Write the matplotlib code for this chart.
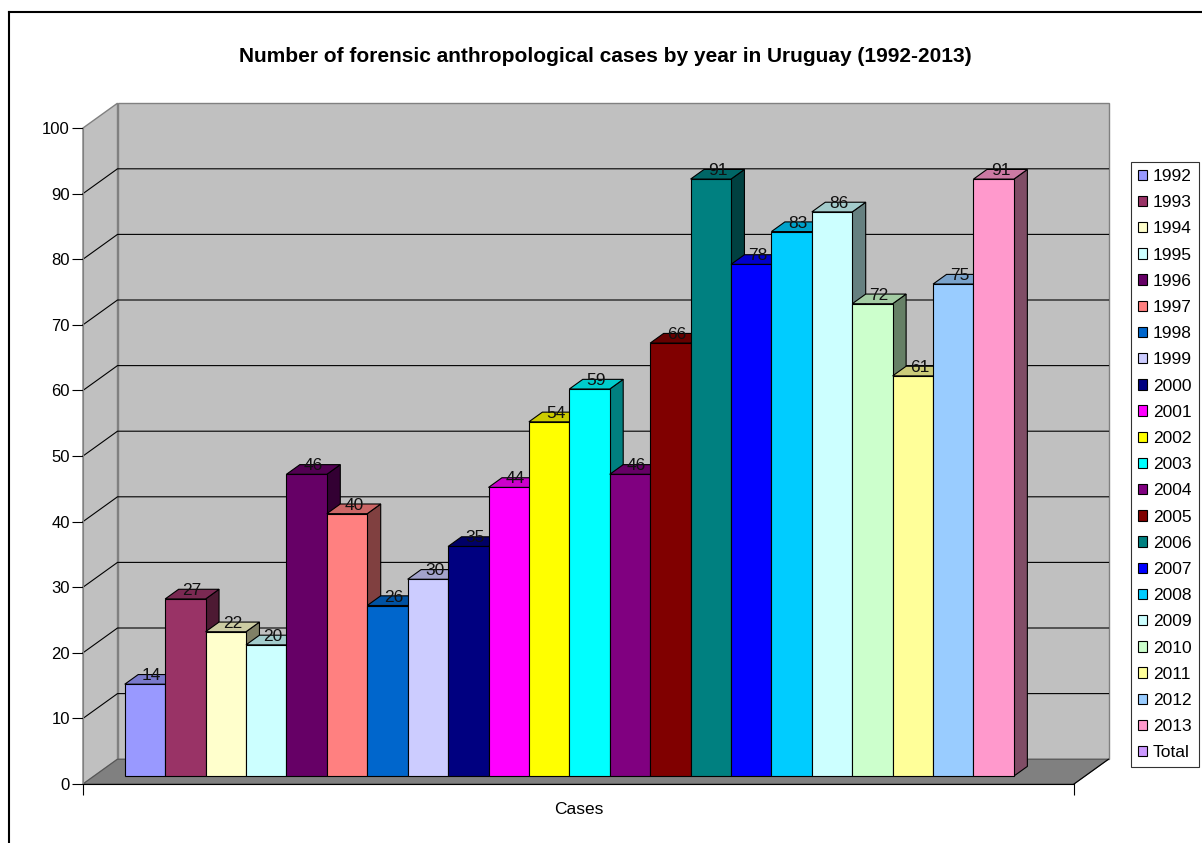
import numpy as np
import matplotlib as mpl

mpl.use('Agg')

from matplotlib import pyplot as plt
from matplotlib.patches import Rectangle, Polygon, Patch
from matplotlib.lines import Line2D
from matplotlib.colors import to_rgb

title = "Number of forensic anthropological cases by year in Uruguay (1992-2013)"
years = ['1992', '1993', '1994', '1995', '1996', '1997', '1998', '1999', '2000', '2001', '2002',
         '2003', '2004', '2005', '2006', '2007', '2008', '2009', '2010', '2011', '2012', '2013',
         'Total']
cases = [14, 27, 22, 20, 46, 40, 26, 30, 35, 44, 54, 59, 46, 66, 91, 78, 83, 86, 72, 61, 75, 91]
colors = ['#9999FF', '#993366', '#FFFFCC', '#CCFFFF', '#660066', '#FF8080', '#0066CC', '#CCCCFF',
          '#000080', '#FF00FF', '#FFFF00', '#00FFFF', '#800080', '#800000', '#008080', '#0000FF',
          '#00CCFF', '#CCFFFF', '#CCFFCC', '#FFFF99', '#99CCFF', '#FF99CC', '#CC99FF']
yticks = list(range(0, 101, 10))

plt.rcParams['font.family'] = ['Liberation Sans', 'DejaVu Sans']

W, H = 1202, 843
fig = plt.figure(figsize=(W / 100, H / 100), dpi=100)

# front plane of the 3d box, in pixels
left, right, bottom, top = 83, 1074, 784, 128
ax = fig.add_axes([left / W, 1 - bottom / H, (right - left) / W, (bottom - top) / H])
xmin, xmax = -0.76, len(years) - 1 + 1.76
ax.set_xlim(xmin, xmax)
ax.set_ylim(0, 100)
ax.patch.set_visible(False)

# depth of the box in data units
px_x = (right - left) / (xmax - xmin)
px_y = (bottom - top) / 100
ddx = 34.5 / px_x
ddy = 24.8 / px_y


def shade(c, f):
    return tuple(np.array(to_rgb(c)) * f)


# walls and floor
wall = '#C0C0C0'
ax.add_patch(Polygon([(xmin, 0), (xmin, 100), (xmin + ddx, 100 + ddy), (xmin + ddx, ddy)],
                     facecolor=wall, edgecolor='#808080', lw=1, clip_on=False, zorder=0))
ax.add_patch(Rectangle((xmin + ddx, ddy), xmax - xmin, 100, facecolor=wall,
                       edgecolor='#808080', lw=1, clip_on=False, zorder=0))
ax.add_patch(Polygon([(xmin, 0), (xmax, 0), (xmax + ddx, ddy), (xmin + ddx, ddy)],
                     facecolor='#808080', edgecolor='#555555', lw=0.8, clip_on=False, zorder=0.5))
ax.plot([xmax, xmax + ddx], [0, ddy], color='black', lw=0.8, clip_on=False, zorder=0.6)

for v in yticks[1:-1]:
    ax.plot([xmin, xmin + ddx, xmax + ddx], [v, v + ddy, v + ddy], color='black', lw=0.8,
            clip_on=False, zorder=1)

# bars
d0, d1 = 0.32, 0.71
dx = (d1 - d0) * ddx
dy = (d1 - d0) * ddy
xs = np.arange(len(cases)) + d0 * ddx
bars = ax.bar(xs, cases, width=1, bottom=d0 * ddy, align='edge', color=colors[:len(cases)],
              edgecolor='black', lw=0.8, clip_on=False)
for i, (x, v, c, b) in enumerate(zip(xs, cases, colors, bars)):
    h = v + d0 * ddy
    z = 2 + 3 * i
    ax.add_patch(Polygon([(x + 1, d0 * ddy), (x + 1, h), (x + 1 + dx, h + dy), (x + 1 + dx, d1 * ddy)],
                         facecolor=shade(c, 0.5), edgecolor='black', lw=0.8, clip_on=False, zorder=z))
    ax.add_patch(Polygon([(x, h), (x + 1, h), (x + 1 + dx, h + dy), (x + dx, h + dy)],
                         facecolor=shade(c, 0.8), edgecolor='black', lw=0.8, clip_on=False, zorder=z + 1))
    b.set_zorder(z + 2)
    ax.text(x + 0.5 + dx / 2, h + 4 / px_y, str(v), ha='center', va='baseline', fontsize=12.5,
            color='#111111', zorder=200)

# axes
for s in ['top', 'right']:
    ax.spines[s].set_visible(False)
ax.spines['left'].set_color('#808080')
ax.spines['bottom'].set_color('black')
ax.spines['left'].set_zorder(150)
ax.spines['bottom'].set_zorder(150)
ax.set_yticks(yticks)
ax.tick_params(axis='y', length=7.9, width=0.8, pad=1.5, labelsize=12, color='black')
ax.set_xticks([(xmin + xmax) / 2])
ax.set_xticklabels(['Cases'])
ax.tick_params(axis='x', which='major', length=0, pad=13, labelsize=12.5)
ax.set_xticks([xmin, xmax], minor=True)
ax.tick_params(axis='x', which='minor', length=7.9, width=0.8, direction='out', color='black')

fig.text(605 / W, 1 - 61.7 / H, title, ha='center', va='baseline', fontsize=15, fontweight='bold')

handles = [Patch(facecolor=c, edgecolor='black', lw=0.8) for c in colors]
leg = fig.legend(handles, years, loc='upper left', bbox_to_anchor=(1131 / W, 1 - 162 / H),
                 frameon=True, fancybox=False, edgecolor='black', fontsize=12.5, handlelength=0.55,
                 handleheight=0.55, handletextpad=0.3, labelspacing=0.645, borderpad=0.4,
                 borderaxespad=0)
leg.get_frame().set_linewidth(0.8)

# outer chart border
fig.add_artist(Line2D([9 / W, 9 / W], [0, 1 - 12 / H], transform=fig.transFigure, color='black', lw=1.5))
fig.add_artist(Line2D([9 / W, 1], [1 - 12 / H, 1 - 12 / H], transform=fig.transFigure, color='black', lw=1.5))

fig.savefig('out.png', dpi=100)
